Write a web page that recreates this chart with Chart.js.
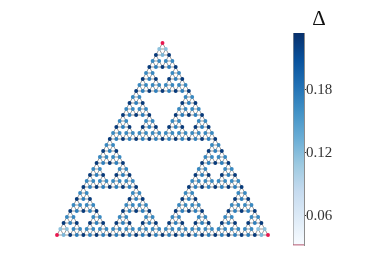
<!DOCTYPE html>
<html>
<head>
<meta charset="utf-8">
<title>Sierpinski gasket</title>
<script src="https://cdn.jsdelivr.net/npm/chart.js@4/dist/chart.umd.min.js"></script>
<style>
    html, body { margin: 0; padding: 0; background: #fff; }
    #wrap { position: relative; width: 374px; height: 280px; overflow: hidden; }
    canvas { position: absolute; top: 0; }
</style>
</head>
<body>
<div id="wrap">
    <canvas id="gasketChart" width="374" height="280" style="left:0"></canvas>
    <canvas id="barChart" width="67" height="280" style="left:278px"></canvas>
</div>
<script>
// Lattice columns of the nodes, one list per row from the apex down
const nodeCols = [
    [0], [0,1], [0,1,2], [0,1,2,3], [0,1,2,3,4], [0,1,4,5], [0,1,2,4,5,6], [0,1,2,3,4,5,6,7],
    [0,1,2,3,4,5,6,7,8], [0,1,8,9], [0,1,2,8,9,10], [0,1,2,3,8,9,10,11],
    [0,1,2,3,4,8,9,10,11,12], [0,1,4,5,8,9,12,13], [0,1,2,4,5,6,8,9,10,12,13,14],
    [0,1,2,3,4,5,6,7,8,9,10,11,12,13,14,15],
    [0,1,2,3,4,5,6,7,8,9,10,11,12,13,14,15,16], [0,1,16,17], [0,1,2,16,17,18], [0,1,2,3,16,17,18,19],
    [0,1,2,3,4,16,17,18,19,20], [0,1,4,5,16,17,20,21], [0,1,2,4,5,6,16,17,18,20,21,22],
    [0,1,2,3,4,5,6,7,16,17,18,19,20,21,22,23],
    [0,1,2,3,4,5,6,7,8,16,17,18,19,20,21,22,23,24], [0,1,8,9,16,17,24,25],
    [0,1,2,8,9,10,16,17,18,24,25,26], [0,1,2,3,8,9,10,11,16,17,18,19,24,25,26,27],
    [0,1,2,3,4,8,9,10,11,12,16,17,18,19,20,24,25,26,27,28],
    [0,1,4,5,8,9,12,13,16,17,20,21,24,25,28,29],
    [0,1,2,4,5,6,8,9,10,12,13,14,16,17,18,20,21,22,24,25,26,28,29,30],
    [0,1,2,3,4,5,6,7,8,9,10,11,12,13,14,15,16,17,18,19,20,21,22,23,24,25,26,27,28,29,30,31],
    [0,1,2,3,4,5,6,7,8,9,10,11,12,13,14,15,16,17,18,19,20,21,22,23,24,25,26,27,28,29,30,31,32]
];

// Delta at each node, same shape as nodeCols
const nodeDelta = [
    [.03], [.116,.116], [.225,.125,.225], [.165,.165,.165,.165], [.225,.172,.225,.172,.225],
    [.165,.165,.165,.165], [.225,.172,.225,.225,.172,.225], [.165,.165,.165,.165,.165,.165,.165,.165],
    [.225,.172,.225,.172,.225,.172,.225,.172,.225], [.165,.165,.165,.165], [.225,.172,.225,.225,.172,.225],
    [.165,.165,.165,.165,.165,.165,.165,.165],
    [.225,.172,.225,.172,.225,.225,.172,.225,.172,.225], [.165,.165,.165,.165,.165,.165,.165,.165],
    [.225,.172,.225,.225,.172,.225,.225,.172,.225,.225,.172,.225],
    [.165,.165,.165,.165,.165,.165,.165,.165,.165,.165,.165,.165,.165,.165,.165,.165],
    [.225,.172,.225,.172,.225,.172,.225,.172,.225,.172,.225,.172,.225,.172,.225,.172,.225],
    [.165,.165,.165,.165], [.225,.172,.225,.225,.172,.225], [.165,.165,.165,.165,.165,.165,.165,.165],
    [.225,.172,.225,.172,.225,.225,.172,.225,.172,.225], [.165,.165,.165,.165,.165,.165,.165,.165],
    [.225,.172,.225,.225,.172,.225,.225,.172,.225,.225,.172,.225],
    [.165,.165,.165,.165,.165,.165,.165,.165,.165,.165,.165,.165,.165,.165,.165,.165],
    [.225,.172,.225,.172,.225,.172,.225,.172,.225,.225,.172,.225,.172,.225,.172,.225,.172,.225],
    [.165,.165,.165,.165,.165,.165,.165,.165],
    [.225,.172,.225,.225,.172,.225,.225,.172,.225,.225,.172,.225],
    [.165,.165,.165,.165,.165,.165,.165,.165,.165,.165,.165,.165,.165,.165,.165,.165],
    [.225,.172,.225,.172,.225,.225,.172,.225,.172,.225,.225,.172,.225,.172,.225,.225,.172,.225,.172,.225],
    [.165,.165,.165,.165,.165,.165,.165,.165,.165,.165,.165,.165,.165,.165,.165,.165],
    [.225,.172,.225,.225,.172,.225,.225,.172,.225,.225,.172,.225,.225,.172,.225,.225,.172,.225,.225,.172,.225,.225,.172,.225],
    [.116,.116,.165,.165,.165,.165,.165,.165,.165,.165,.165,.165,.165,.165,.165,.165,.165,.165,.165,.165,.165,.165,.165,.165,.165,.165,.165,.165,.165,.165,.116,.116],
    [.03,.125,.225,.172,.225,.172,.225,.172,.225,.172,.225,.172,.225,.172,.225,.172,.225,.172,.225,.172,.225,.172,.225,.172,.225,.172,.225,.172,.225,.172,.225,.125,.03]
];

// Top node of every small upright triangle, one list per row (edges come from these)
const triangleTops = [
    [0], [0,1], [0,2], [0,1,2,3], [0,4], [0,1,4,5], [0,2,4,6], [0,1,2,3,4,5,6,7],
    [0,8], [0,1,8,9], [0,2,8,10], [0,1,2,3,8,9,10,11], [0,4,8,12], [0,1,4,5,8,9,12,13],
    [0,2,4,6,8,10,12,14], [0,1,2,3,4,5,6,7,8,9,10,11,12,13,14,15],
    [0,16], [0,1,16,17], [0,2,16,18], [0,1,2,3,16,17,18,19], [0,4,16,20], [0,1,4,5,16,17,20,21],
    [0,2,4,6,16,18,20,22], [0,1,2,3,4,5,6,7,16,17,18,19,20,21,22,23],
    [0,8,16,24], [0,1,8,9,16,17,24,25], [0,2,8,10,16,18,24,26],
    [0,1,2,3,8,9,10,11,16,17,18,19,24,25,26,27], [0,4,8,12,16,20,24,28],
    [0,1,4,5,8,9,12,13,16,17,20,21,24,25,28,29],
    [0,2,4,6,8,10,12,14,16,18,20,22,24,26,28,30],
    [0,1,2,3,4,5,6,7,8,9,10,11,12,13,14,15,16,17,18,19,20,21,22,23,24,25,26,27,28,29,30,31]
];

// Colorbar range and ticks
const deltaMin = 0.032;
const deltaMax = 0.2334;
const underLimit = 0.031;
const colorTicks = [0.06, 0.12, 0.18];
const blues = ['#f7fbff', '#deebf7', '#c6dbef', '#9ecae1', '#6baed6', '#4292c6', '#2171b5', '#08519c', '#08306b'];
const underColor = '#e8174f';

const serif = '"Liberation Serif", "DejaVu Serif", serif';

// Map a delta value onto the Blues ramp
function deltaColor(value) {
    if (value < deltaMin) return underColor;
    const t = (value - deltaMin) / (deltaMax - deltaMin) * (blues.length - 1);
    const i = Math.min(Math.floor(t), blues.length - 2);
    const f = t - i;
    const a = parseInt(blues[i].slice(1), 16);
    const b = parseInt(blues[i + 1].slice(1), 16);
    const mix = shift => Math.round(((a >> shift) & 255) * (1 - f) + ((b >> shift) & 255) * f);
    return `rgb(${mix(16)}, ${mix(8)}, ${mix(0)})`;
}

// Lattice position on the plot
function latticePoint(row, col) {
    return { x: col - row / 2, y: -row };
}

function initializeGasketChart() {
    const points = [];
    const colors = [];
    nodeCols.forEach((cols, row) => {
        cols.forEach((col, i) => {
            points.push(latticePoint(row, col));
            colors.push(deltaColor(nodeDelta[row][i]));
        });
    });

    const edges = [];
    triangleTops.forEach((tops, row) => {
        tops.forEach(col => {
            edges.push(latticePoint(row, col), latticePoint(row + 1, col), latticePoint(row + 1, col + 1),
                latticePoint(row, col), { x: NaN, y: NaN });
        });
    });

    new Chart(document.getElementById('gasketChart').getContext('2d'), {
        type: 'scatter',
        data: {
            datasets: [{
                data: points,
                pointRadius: 1.95,
                pointBorderWidth: 0,
                pointBackgroundColor: colors,
                showLine: false,
                clip: false
            }, {
                data: edges,
                showLine: true,
                spanGaps: false,
                borderColor: '#999999',
                borderWidth: 1,
                pointRadius: 0,
                clip: false
            }]
        },
        options: {
            responsive: false,
            animation: false,
            layout: { padding: { left: 57, right: 106, top: 43, bottom: 45 } },
            plugins: { legend: { display: false }, title: { display: false }, tooltip: { enabled: false } },
            scales: {
                x: { display: false, min: -16, max: 16 },
                y: { display: false, min: -32, max: 0 }
            }
        }
    });
}

function initializeBarChart() {
    new Chart(document.getElementById('barChart').getContext('2d'), {
        type: 'bar',
        data: {
            labels: ['Delta'],
            datasets: [{
                data: [[deltaMin, deltaMax]],
                backgroundColor: function(context) {
                    const area = context.chart.chartArea;
                    if (!area) return blues[4];
                    const scale = context.chart.scales.y;
                    const grad = context.chart.ctx.createLinearGradient(0, scale.getPixelForValue(deltaMin), 0, scale.getPixelForValue(deltaMax));
                    blues.forEach((c, i) => grad.addColorStop(i / (blues.length - 1), c));
                    return grad;
                },
                borderColor: '#9a9a9a',
                borderWidth: { left: 1 },
                borderSkipped: false,
                barPercentage: 1,
                categoryPercentage: 1
            }, {
                data: [[underLimit, deltaMin]],
                backgroundColor: '#b5566f',
                barPercentage: 1,
                categoryPercentage: 1
            }]
        },
        options: {
            responsive: false,
            animation: false,
            layout: { padding: { left: 15, right: 0, top: 0, bottom: 34.5 } },
            datasets: { bar: { grouped: false } },
            plugins: {
                legend: { display: false },
                tooltip: { enabled: false },
                title: {
                    display: true,
                    text: '\u0394',
                    color: '#111',
                    font: { family: serif, size: 21, weight: 'normal', lineHeight: 1.2 },
                    padding: { top: 7.3, bottom: 0.5 }
                }
            },
            scales: {
                x: { display: false },
                y: {
                    position: 'right',
                    min: underLimit,
                    max: deltaMax,
                    afterBuildTicks: function(axis) {
                        axis.ticks = colorTicks.map(v => ({ value: v }));
                    },
                    afterFit: function(axis) {
                        axis.width = 41;
                    },
                    border: { display: true, color: '#8c8c8c', width: 1 },
                    grid: { display: true, drawOnChartArea: false, drawTicks: true, tickLength: 2, color: '#333' },
                    ticks: {
                        padding: 0,
                        labelOffset: 1,
                        color: '#333',
                        font: { family: serif, size: 15 },
                        callback: v => v.toFixed(2)
                    }
                }
            }
        }
    });
}

initializeGasketChart();
initializeBarChart();
</script>
</body>
</html>
